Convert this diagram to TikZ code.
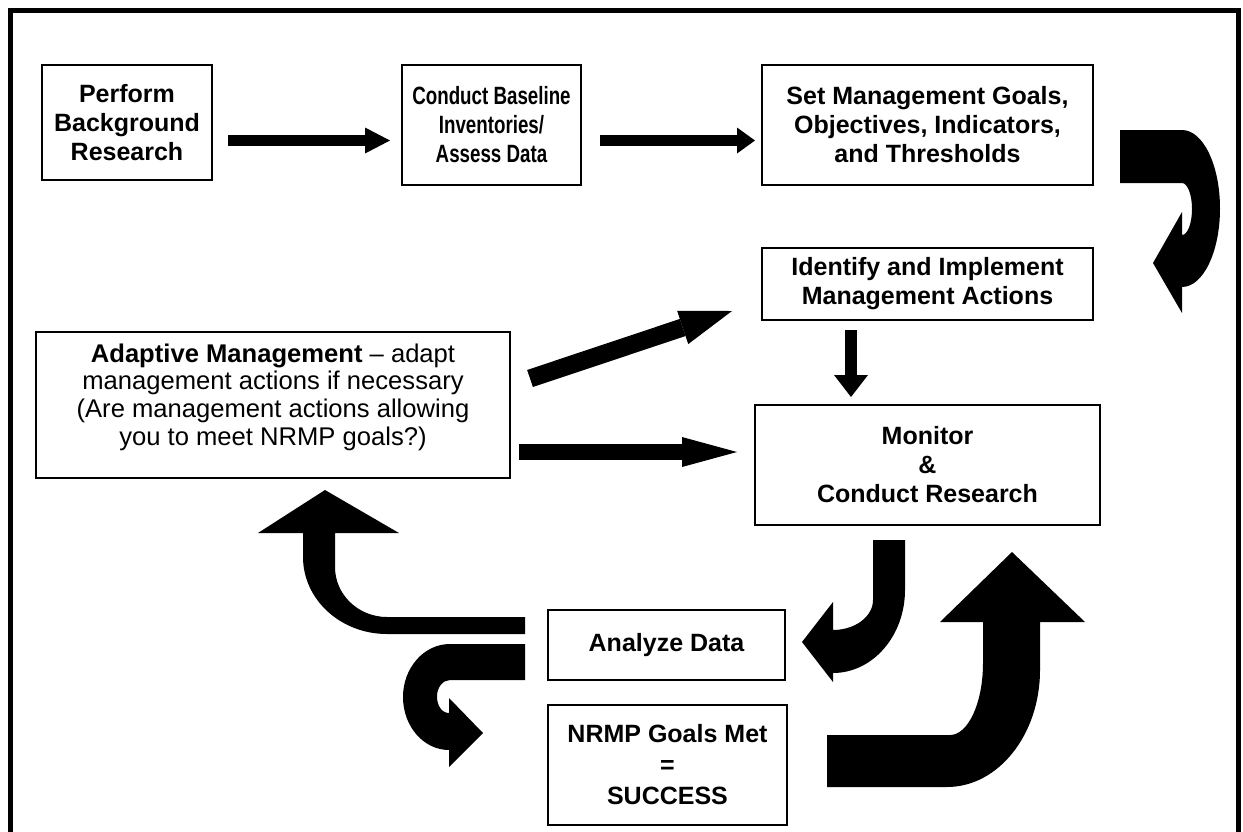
\documentclass[tikz,border=0pt]{standalone}
\usepackage{fontspec}
\setmainfont{Liberation Sans}
\newfontfamily\narrowsans[FakeStretch=0.75]{Liberation Sans}
\usetikzlibrary{arrows.meta}

\tikzset{
  stage/.style={draw, line width=1pt, align=center, inner sep=0pt, outer sep=0pt,
    font=\fontsize{12.5}{14.5}\selectfont\bfseries},
  fat/.style n args={3}{line width=#1, -{Triangle[length=#2, width=#3, line width=0pt]}},
}

\begin{document}
\begin{tikzpicture}[x=0.5pt, y=-0.5pt]
\useasboundingbox (0,0) rectangle (1243,831);
\draw[line width=2.5pt] (10,845) -- (10,10) -- (1238,10) -- (1238,845);

% top row
\node[stage, minimum width=85pt, minimum height=57.5pt] (research) at (127,122.5) {Perform\\Background\\Research};
\node[stage, minimum width=89.5pt, minimum height=60pt, font=\narrowsans\fontsize{12.5}{14.5}\selectfont\bfseries] (baseline) at (491.5,125) {Conduct Baseline\\Inventories/\\Assess Data};
\node[stage, minimum width=165.5pt, minimum height=60pt] (goals) at (927.5,125) {Set Management Goals,\\Objectives, Indicators,\\and Thresholds};

% middle
\node[stage, minimum width=165.5pt, minimum height=36pt] (actions) at (927.5,284) {Identify and Implement\\Management Actions};
\node[stage, minimum width=237pt, minimum height=73pt] (adapt) at (273,405) {};
\node[align=center, inner sep=0pt, font=\fontsize{12.8}{13.8}\selectfont] (adapt-text) at (273,397)
  {\textbf{Adaptive Management} -- adapt\\management actions if necessary\\(Are management actions allowing\\you to meet NRMP goals?)};
\node[stage, minimum width=172.5pt, minimum height=60pt] (monitor) at (927.5,465) {Monitor\\\&\\Conduct Research};

% bottom
\node[stage, minimum width=118.5pt, minimum height=35pt] (analyze) at (666.5,645) {Analyze Data};
\node[stage, minimum width=119.5pt, minimum height=60pt, font=\fontsize{12.5}{15.5}\selectfont\bfseries] (success) at (667.5,765) {NRMP Goals Met\\=\\SUCCESS};

% straight arrows
\coordinate (row) at (0,140.5);
\coordinate (col) at (851,0);
\coordinate (row2) at (0,452);
\coordinate (diag-a) at (530,378.5);
\coordinate (diag-b) at (732,311);
\draw[fat={5.5pt}{12.5pt}{13pt}, shorten <=8pt, shorten >=6pt] (research.east |- row) -- (baseline.west |- row);
\draw[fat={5.5pt}{9pt}{13pt}, shorten <=9.5pt, shorten >=3.5pt] (baseline.east |- row) -- (goals.west |- row);
\draw[fat={6pt}{11pt}{17pt}, shorten <=5pt, shorten >=4pt] (actions.south -| col) -- (monitor.north -| col);
\draw[fat={9pt}{26pt}{17.5pt}] (diag-a) -- (diag-b);
\draw[fat={8pt}{27.5pt}{15pt}, shorten <=4.5pt, shorten >=9pt] (adapt.east |- row2) -- (monitor.west |- row2);

% curved arrows
\fill (1120,130) -- (1182,130) .. controls (1203,130) and (1220,165) .. (1220,208.5)
  .. controls (1220,252) and (1203,287) .. (1182,287) -- (1182,313) -- (1153,263) -- (1182,212) -- (1182,235)
  .. controls (1187.5,235) and (1192,223.4) .. (1192,209) .. controls (1192,194.6) and (1187.5,183) .. (1182,183)
  -- (1120,183) -- cycle;
\fill (873,540) -- (905,540) -- (905,590) .. controls (905,635.8) and (872.7,673) .. (833,673)
  -- (833,682) -- (802,642) -- (833,602) -- (833,630) .. controls (855,630) and (873,616.6) .. (873,600) -- cycle;
\fill (525,617) -- (387,617) .. controls (358.3,617) and (335,594.6) .. (335,567) -- (335,533) -- (399,533)
  -- (325,490) -- (258,533) -- (303,533) -- (303,557) .. controls (303,599.5) and (340.6,634) .. (387,634)
  -- (525,634) -- cycle;
\fill (525,644) -- (450,644) .. controls (424,644) and (403,667.7) .. (403,697) .. controls (403,726.3) and (423.6,750) .. (449,750)
  -- (449,767) -- (483,733) -- (449,698) -- (449,713) .. controls (441.8,713) and (437,705.6) .. (437,696.5)
  .. controls (437,687.4) and (442.8,680) .. (450,680) -- (525,680) -- cycle;
\fill (827,735) -- (950,735) .. controls (968.2,735) and (983,702.7) .. (983,663) -- (983,622) -- (940,622)
  -- (1012,552) -- (1085,622) -- (1040,622) -- (1040,670) .. controls (1040,734.6) and (998.3,787) .. (947,787)
  -- (827,787) -- cycle;

\end{tikzpicture}
\end{document}
